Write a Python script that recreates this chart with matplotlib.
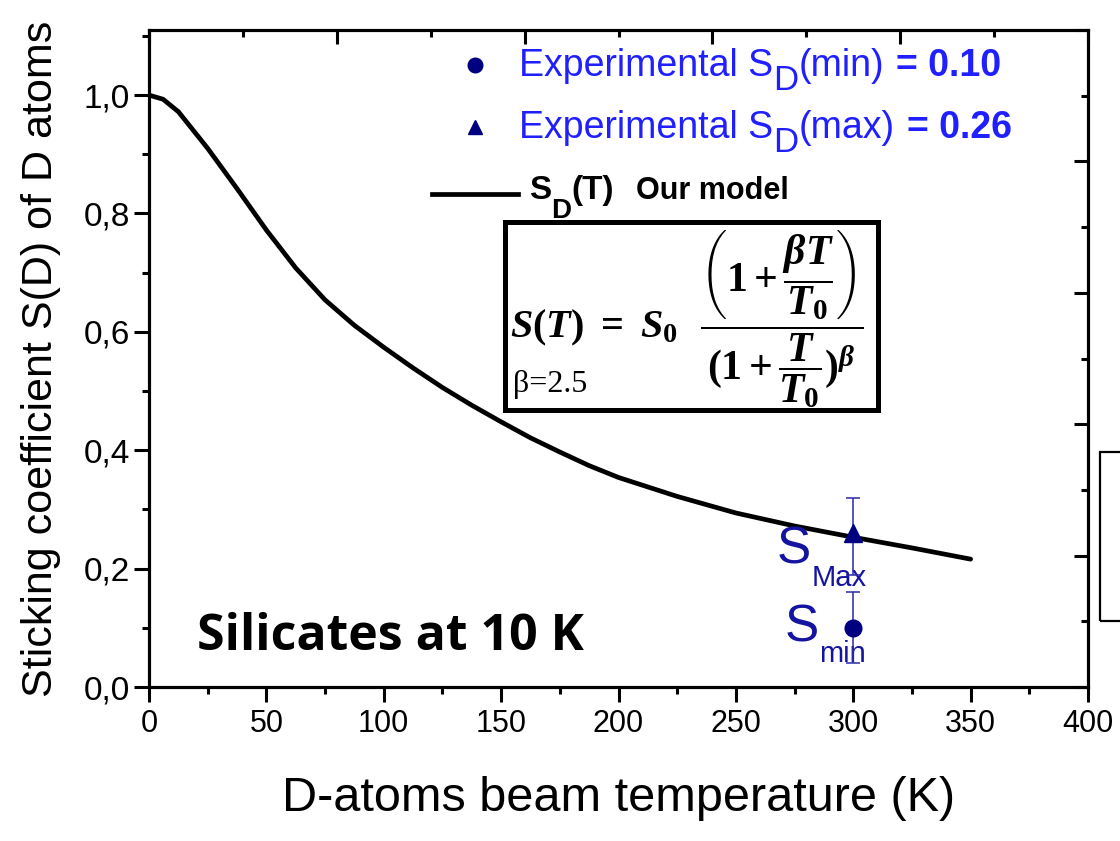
import matplotlib
matplotlib.use("Agg")
import matplotlib.pyplot as plt
from matplotlib.patches import Rectangle
from matplotlib.ticker import MultipleLocator, FixedLocator, FuncFormatter

plt.rcParams['font.family'] = ['Liberation Sans', 'DejaVu Sans']
plt.rcParams['mathtext.fontset'] = 'custom'
plt.rcParams['mathtext.rm'] = 'Liberation Serif:bold'
plt.rcParams['mathtext.it'] = 'Liberation Serif:italic:bold'
plt.rcParams['mathtext.bf'] = 'Liberation Serif:bold'

# ---------------- data ----------------
T_model = [0, 6, 12.5, 25, 37.5, 50, 62.5, 75, 87.5, 100, 112.5, 125, 137.5,
           150, 162.5, 175, 187.5, 200, 225, 250, 275, 300, 325, 350]
S_model = [1.000, 0.993, 0.972, 0.910, 0.842, 0.772, 0.708, 0.654, 0.611,
           0.574, 0.539, 0.506, 0.476, 0.448, 0.421, 0.397, 0.374, 0.354,
           0.322, 0.294, 0.272, 0.253, 0.235, 0.216]

T_exp = [300]
S_min = [0.10]
S_min_err_lo = [0.06]
S_min_err_hi = [0.06]
S_max = [0.26]
S_max_err_lo = [0.07]
S_max_err_hi = [0.06]

x_ticks = [0, 50, 100, 150, 200, 250, 300, 350, 400]
y_ticks = [0.0, 0.2, 0.4, 0.6, 0.8, 1.0]

NAVY = '#000080'
LBLUE = '#1f1fff'
SBLUE = '#1414a0'

fig = plt.figure(figsize=(11.2, 8.41), dpi=100)
ax = fig.add_axes([149/1120, (841-687)/841, (1088-149)/1120, (687-30)/841])

ax.plot(T_model, S_model, color='black', lw=3.4, solid_capstyle='round',
        solid_joinstyle='round', zorder=3)

ax.errorbar(T_exp, S_max, yerr=[S_max_err_lo, S_max_err_hi], fmt='^',
            color=NAVY, ms=13, ecolor='#2a2aa8', elinewidth=1.1, capsize=5,
            capthick=1.1, zorder=4)
ax.errorbar(T_exp, S_min, yerr=[S_min_err_lo, S_min_err_hi], fmt='o',
            color=NAVY, ms=12, ecolor='#2a2aa8', elinewidth=1.1, capsize=5,
            capthick=1.1, zorder=4)

ax.set_xlim(0, 400)
ax.set_ylim(0, 1.11)
ax.xaxis.set_major_locator(FixedLocator(x_ticks))
ax.xaxis.set_minor_locator(MultipleLocator(25))
ax.yaxis.set_major_locator(FixedLocator(y_ticks))
ax.yaxis.set_minor_locator(MultipleLocator(0.1))
ax.yaxis.set_major_formatter(FuncFormatter(lambda v, p: f"{v:.1f}".replace('.', ',')))
ax.tick_params(which='both', direction='out', width=2.2, top=False, right=False)
ax.tick_params(which='major', length=10.5)
ax.tick_params(which='minor', length=5)
ax.tick_params(axis='x', which='major', pad=5, labelsize=22)
ax.tick_params(axis='y', which='major', pad=3, labelsize=24)
for sp in ax.spines.values():
    sp.set_linewidth(2.2)

# top / right axis ticks (10 divisions, inward)
axt = ax.twiny()
axt.set_xlim(0, 10)
axt.xaxis.set_major_locator(MultipleLocator(2))
axt.xaxis.set_minor_locator(MultipleLocator(1))
axt.tick_params(axis='x', which='both', direction='in', width=2.2,
                labeltop=False, top=True)
axt.tick_params(axis='x', which='major', length=10)
axt.tick_params(axis='x', which='minor', length=5)
axr = ax.twinx()
axr.set_ylim(0, 10)
axr.yaxis.set_major_locator(MultipleLocator(2))
axr.yaxis.set_minor_locator(MultipleLocator(1))
axr.tick_params(axis='y', which='both', direction='in', width=2.2,
                labelright=False, right=True)
axr.tick_params(axis='y', which='major', length=10)
axr.tick_params(axis='y', which='minor', length=5)
for a in (axt, axr):
    for sp in a.spines.values():
        sp.set_linewidth(2.2)

ax.set_xlabel('D-atoms beam temperature (K)', fontsize=35)
ax.xaxis.set_label_coords(0.5, -0.135)
ax.set_ylabel('Sticking coefficient S(D) of D atoms', fontsize=31)
ax.yaxis.set_label_coords(-0.094, 0.5)


def chain(prev, s, dx=0, dy=0, **kw):
    return ax.annotate(s, xy=(1, 0), xycoords=prev, xytext=(dx, dy),
                       textcoords='offset points', va='bottom', ha='left', **kw)


def ax_x(px):
    return (px - 149) / 939


def ax_y(py):
    return (687 - py) / 657


# ---------- legend-like block ----------
rows = [('o', 65, 76, 'min', '0.10'), ('^', 127, 138, 'max', '0.26')]
for mk, ymk, ybase, word, val in rows:
    ax.plot([ax_x(475)], [ax_y(ymk)], marker=mk, ms=10.5, color=NAVY,
            transform=ax.transAxes, clip_on=False)
    t1 = ax.text(ax_x(519), ax_y(ybase), 'Experimental S', color=LBLUE,
                 fontsize=27, transform=ax.transAxes, va='baseline', ha='left')
    t2 = chain(t1, 'D', dy=-9.5, color=LBLUE, fontsize=25)
    t3 = chain(t2, f'({word})', dy=9.5, color=LBLUE, fontsize=27)
    chain(t3, f'= {val}', dx=9, color=LBLUE, fontsize=27, fontweight='bold')

ax.plot([ax_x(432), ax_x(518)], [ax_y(194), ax_y(194)], color='black', lw=3.4,
        transform=ax.transAxes, clip_on=False)
r1 = ax.text(ax_x(529), ax_y(199), 'S', fontsize=24, fontweight='bold',
             transform=ax.transAxes, va='baseline', ha='left')
r2 = chain(r1, 'D', dy=-13, fontsize=20, fontweight='bold')
r3 = chain(r2, '(T)', dy=13, fontsize=24, fontweight='bold')
chain(r3, 'Our model', dx=16, fontsize=22, fontweight='bold')

# ---------- formula box ----------
ax.add_patch(Rectangle((ax_x(505), ax_y(410)), ax_x(878) - ax_x(505),
                       ax_y(222) - ax_y(410), transform=ax.transAxes,
                       fill=False, lw=3.6, edgecolor='black', zorder=5))
ax.text(ax_x(510), ax_y(337), r'$S(T)\ =\ S_0$', transform=ax.transAxes,
        ha='left', va='baseline', fontsize=29, color='black')
ax.text(ax_x(782), ax_y(320),
        r'$\dfrac{\left(1+\dfrac{\beta T}{T_0}\right)}{(1+\dfrac{T}{T_0})^{\beta}}$',
        transform=ax.transAxes, ha='center', va='center', fontsize=30,
        color='black')
ax.text(ax_x(513), ax_y(392), 'β=2.5', transform=ax.transAxes,
        ha='left', va='baseline', fontsize=23, family='Liberation Serif')

# ---------- point labels ----------
ax.annotate('S', xy=(T_exp[0], S_max[0]), xytext=(-55.4, -21.6),
            textcoords='offset points', ha='left', va='baseline',
            fontsize=37, color=SBLUE)
ax.annotate('Max', xy=(T_exp[0], S_max[0]), xytext=(-30.2, -38.2),
            textcoords='offset points', ha='left', va='baseline',
            fontsize=21, color=SBLUE)
ax.annotate('S', xy=(T_exp[0], S_min[0]), xytext=(-49.7, -10.2),
            textcoords='offset points', ha='left', va='baseline',
            fontsize=37, color=SBLUE)
ax.annotate('min', xy=(T_exp[0], S_min[0]), xytext=(-24.5, -24.5),
            textcoords='offset points', ha='left', va='baseline',
            fontsize=21, color=SBLUE)

ax.text(ax_x(197), ax_y(650), 'Silicates at 10 K', transform=ax.transAxes,
        ha='left', va='baseline', fontsize=36, fontweight='bold',
        family=['Open Sans', 'DejaVu Sans'])

# cropped box at right edge
fig.add_artist(Rectangle((1100/1120, 1 - 621/841), 0.1, (621 - 452)/841,
                         transform=fig.transFigure, fill=False, lw=1.6,
                         edgecolor='black'))

fig.savefig('out.png', dpi=100)
